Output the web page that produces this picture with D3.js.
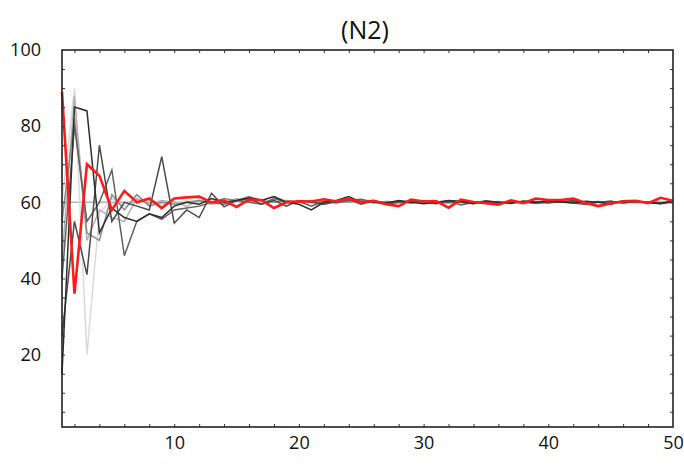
<!DOCTYPE html>
<html>
<head>
<meta charset="utf-8">
<script src="https://cdn.jsdelivr.net/npm/d3@7"></script>
<style>
  body { margin: 0; background: #fff; }
  text { font-family: "Open Sans", "Noto Sans", sans-serif; fill: #111; }
</style>
</head>
<body>
<div id="chart"></div>
<script>
// iterations 1..50
const iters = d3.range(1, 51);

// red run
const redRun = [89, 36, 70, 67, 58, 63, 60, 61, 58.5, 61, 61.3, 61.5, 60, 60.5, 58.8, 60.7, 60.6, 58.5, 60, 60.3,
  60.2, 60.8, 60.3, 61, 60, 60.4, 59.5, 59, 60.7, 60.2, 60.3, 58.6, 60.7, 60.1, 59.8, 59.4, 60.5, 59.8, 61, 60.6,
  60.6, 61, 59.8, 59, 59.7, 60.3, 60.4, 59.8, 61.2, 60.4];

// grey runs
const run1 = [15, 85, 84, 52, 58.5, 56, 55, 57, 56, 59, 60, 59.5, 61, 60, 60.5, 61.2, 60.5, 61.5, 60, 59.5,
  58, 60, 60.5, 61.5, 60, 60.2, 59.8, 60.5, 60, 59.6, 60, 60.5, 60.3, 59.7, 60.2, 60, 59.8, 60.3, 60, 60.4,
  60.1, 59.8, 60.3, 60, 59.5, 60.4, 60.2, 59.9, 59.6, 60.3];
const run2 = [25, 55, 41, 75, 55, 60, 59, 58, 72, 54.5, 58, 56, 62.4, 58.8, 60.5, 61, 59.5, 60.5, 59, 60.5,
  60, 59.5, 60.2, 60.8, 59.5, 60.5, 59.6, 60.3, 59.8, 60.4, 59.7, 60.2, 60, 59.6, 60.4, 60, 59.7, 60.3, 60.1, 59.8,
  60.2, 60.4, 59.7, 60, 60.3, 59.8, 60.2, 60, 59.8, 60.2];
const run3 = [40, 80, 55, 60, 68.5, 46, 55, 57, 55.5, 58, 58.5, 59, 60, 59.5, 60.5, 60, 59.5, 61, 60, 60.2,
  59, 60.3, 59.8, 60.5, 60.8, 60, 59.5, 60, 60.3, 60, 59.6, 60.4, 59.3, 60, 60.2, 59.8, 60.3, 60, 59.7, 60.1,
  60.3, 59.8, 59.4, 60.1, 60.2, 59.9, 60.3, 60, 59.7, 60];
const run4 = [55, 82, 52, 50, 62, 58, 62, 59, 60, 59.5, 60, 60.5, 60, 61, 60.5, 61.5, 60.5, 60, 60.5, 60,
  60.5, 59.8, 60.3, 60, 60.5, 59.8, 60.2, 60, 60.5, 60, 60.2, 59.8, 60.2, 60, 60.3, 59.9, 60.1, 60.2, 59.9, 60.2,
  60, 60.4, 60, 60.2, 59.9, 60, 60.3, 60.1, 59.9, 60.2];
const run5 = [45, 88, 50, 58, 56, 55, 61, 59.5, 60.5, 60, 59, 60.5, 59.5, 60, 61, 60, 60.5, 61.5, 60.3, 60,
  60.2, 59.5, 60.2, 60.5, 60, 60.3, 60, 59.8, 60.2, 60.4, 60, 59.8, 60.3, 60.1, 59.9, 60.2, 60, 59.8, 60.3, 60,
  60.1, 60.3, 59.9, 60, 60.2, 60, 59.8, 60.1, 60.2, 60];
const run6 = [60, 90, 20, 57, 61, 59, 60, 60.5, 59.5, 60, 60.3, 60, 59.8, 60.2, 60, 60.4, 59.8, 60, 60.2, 60,
  59.9, 60.1, 60.2, 60, 59.8, 60, 60.2, 60.1, 59.9, 60, 60.2, 60, 59.9, 60.1, 60, 60.2, 59.9, 60, 60.1, 60,
  59.9, 60.1, 60, 60.2, 60, 59.9, 60.1, 60, 60.1, 60];

const greyRuns = [run6, run5, run4, run3, run2, run1];
const greyColors = ['#dadada', '#b2b2b2', '#8a8a8a', '#626262', '#4a4a4a', '#2e2e2e'];

const xLabels = [10, 20, 30, 40, 50];
const yLabels = [20, 40, 60, 80, 100];
const refLevel = 60;

const width = 684, height = 465;
const svg = d3.select('#chart').append('svg')
  .attr('width', width).attr('height', height);

const x = d3.scaleLinear().domain([1, 50]).range([62, 673]);
const y = d3.scaleLinear().domain([1, 100]).range([427, 50]);

// title
svg.append('text')
  .attr('x', 365).attr('y', 39)
  .attr('text-anchor', 'middle')
  .style('font-size', '25px')
  .text('(N2)');

// reference line at 60
svg.append('line')
  .attr('x1', x(1)).attr('x2', x(50))
  .attr('y1', y(refLevel)).attr('y2', y(refLevel))
  .attr('stroke', '#b4b4b4').attr('stroke-width', 1.5);

const line = d3.line()
  .x((d, i) => x(iters[i]))
  .y(d => y(d));

svg.append('g').selectAll('path')
  .data(greyRuns)
  .enter().append('path')
  .attr('d', d => line(d))
  .attr('fill', 'none')
  .attr('stroke', (d, i) => greyColors[i])
  .attr('stroke-width', 1.5)
  .attr('stroke-linejoin', 'miter');

svg.append('path')
  .attr('d', line(redRun))
  .attr('fill', 'none')
  .attr('stroke', '#ff1a1a')
  .attr('stroke-width', 2.6);

// inward ticks on all four sides
const tickLen = 3;
svg.append('g').attr('transform', `translate(0,${y(1)})`)
  .call(d3.axisBottom(x).tickValues(d3.range(2, 50, 2)).tickSize(-tickLen).tickFormat(''))
  .call(g => g.select('.domain').remove());
svg.append('g').attr('transform', `translate(0,${y(100)})`)
  .call(d3.axisTop(x).tickValues(d3.range(2, 50, 2)).tickSize(-tickLen).tickFormat(''))
  .call(g => g.select('.domain').remove());
svg.append('g').attr('transform', `translate(${x(1)},0)`)
  .call(d3.axisLeft(y).tickValues(d3.range(5, 100, 5)).tickSize(-tickLen).tickFormat(''))
  .call(g => g.select('.domain').remove());
svg.append('g').attr('transform', `translate(${x(50)},0)`)
  .call(d3.axisRight(y).tickValues(d3.range(5, 100, 5)).tickSize(-tickLen).tickFormat(''))
  .call(g => g.select('.domain').remove());
svg.selectAll('.tick line').attr('stroke', '#333');

// labels
svg.append('g').attr('class', 'x-axis').attr('transform', `translate(0,${y(1)})`)
  .call(d3.axisBottom(x).tickValues(xLabels).tickSize(0).tickPadding(9))
  .call(g => g.select('.domain').remove())
  .selectAll('text').style('font-size', '18px').attr('fill', '#111');
svg.append('g').attr('class', 'y-axis').attr('transform', `translate(${x(1)},0)`)
  .call(d3.axisLeft(y).tickValues(yLabels).tickSize(0).tickPadding(21))
  .call(g => g.select('.domain').remove())
  .selectAll('text').style('font-size', '18px').attr('fill', '#111');

// frame
svg.append('rect')
  .attr('x', x(1)).attr('y', y(100))
  .attr('width', x(50) - x(1)).attr('height', y(1) - y(100))
  .attr('fill', 'none').attr('stroke', '#222').attr('stroke-width', 1.6);
</script>
</body>
</html>
